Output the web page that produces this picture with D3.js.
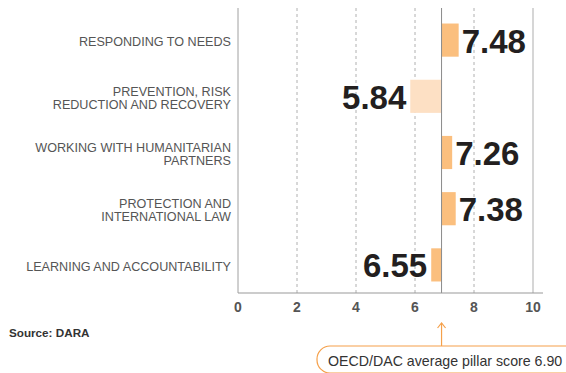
<!DOCTYPE html>
<html><head><meta charset="utf-8">
<script src="https://cdn.jsdelivr.net/npm/d3@7"></script>
<style>
html,body{margin:0;padding:0;background:#fff;}
svg{display:block;}
</style></head>
<body>
<svg id="chart" width="566" height="373"></svg>
<script>
const categories = [
  ["RESPONDING TO NEEDS"],
  ["PREVENTION, RISK", "REDUCTION AND RECOVERY"],
  ["WORKING WITH HUMANITARIAN", "PARTNERS"],
  ["PROTECTION AND", "INTERNATIONAL LAW"],
  ["LEARNING AND ACCOUNTABILITY"]
];
const values = [7.48, 5.84, 7.26, 7.38, 6.55];
const baseline = 6.90;
const tickValues = [0, 2, 4, 6, 8, 10];
const annotationText = "OECD/DAC average pillar score 6.90";
const sourceText = "Source: DARA";

(function() {
const svg = d3.select("#chart");
const x = d3.scaleLinear().domain([0, 10]).range([238, 533]);
const y = d3.scaleBand().domain(d3.range(categories.length)).range([12, 293])
  .paddingInner(0.41).paddingOuter(0.205);
const yTop = 8, yBottom = 293;
const minVal = d3.min(values);

// gridlines
svg.append("g").selectAll("line").data(tickValues).join("line")
  .attr("x1", d => x(d)).attr("x2", d => x(d))
  .attr("y1", yTop).attr("y2", yBottom)
  .attr("stroke", d => d === 0 ? "#a0a0a0" : (d === 10 ? "#c8c8c8" : "#b0b0b0"))
  .attr("stroke-width", d => d === 10 ? 1.5 : 1)
  .attr("stroke-dasharray", d => (d === 0 || d === 10) ? null : "3,3");

// bars
svg.append("g").selectAll("rect").data(values).join("rect")
  .attr("x", d => x(Math.min(d, baseline)))
  .attr("width", d => Math.abs(x(d) - x(baseline)))
  .attr("y", (d, i) => y(i))
  .attr("height", y.bandwidth())
  .attr("fill", d => d === minVal ? "#fde0c4" : "#fbbf7e");

// baseline line
svg.append("line")
  .attr("x1", x(baseline)).attr("x2", x(baseline))
  .attr("y1", yTop).attr("y2", yBottom)
  .attr("stroke", "#8a8a8a").attr("stroke-width", 1);

// x axis line
svg.append("line")
  .attr("x1", x(0)).attr("x2", x(10) + 10)
  .attr("y1", yBottom).attr("y2", yBottom)
  .attr("stroke", "#999").attr("stroke-width", 1);

// tick labels
svg.append("g").selectAll("text").data(tickValues).join("text")
  .attr("x", d => x(d)).attr("y", 312)
  .attr("text-anchor", "middle")
  .attr("font-family", "Liberation Sans, Arial, sans-serif")
  .attr("font-weight", "bold").attr("font-size", 14)
  .attr("fill", "#555")
  .text(d => d);

// value labels
svg.append("g").selectAll("text").data(values).join("text")
  .attr("x", d => d >= baseline ? x(d) + 3 : x(d) - 4)
  .attr("y", (d, i) => y(i) + y.bandwidth() / 2 + 12.5)
  .attr("text-anchor", d => d >= baseline ? "start" : "end")
  .attr("font-family", "Liberation Sans, Arial, sans-serif")
  .attr("font-weight", "bold").attr("font-size", 33)
  .attr("fill", "#231f20")
  .text(d => d.toFixed(2));

// category labels
const cat = svg.append("g").selectAll("text").data(categories).join("text")
  .attr("text-anchor", "end")
  .attr("font-family", "Liberation Sans, Arial, sans-serif")
  .attr("font-size", 12.6)
  .attr("fill", "#555")
  .attr("y", (d, i) => y(i) + y.bandwidth() / 2 + 6 - (d.length - 1) * 6.5);
cat.each(function(d) {
  d3.select(this).selectAll("tspan").data(d).join("tspan")
    .attr("x", 231)
    .attr("dy", (t, j) => j === 0 ? 0 : 13)
    .text(t => t);
});

// source
svg.append("text")
  .attr("x", 9).attr("y", 337)
  .attr("font-family", "Liberation Sans, Arial, sans-serif")
  .attr("font-weight", "bold").attr("font-size", 11.7)
  .attr("fill", "#333")
  .text(sourceText);

// annotation arrow
const ax = x(baseline);
svg.append("line")
  .attr("x1", ax).attr("x2", ax).attr("y1", 323).attr("y2", 346)
  .attr("stroke", "#f5a04a").attr("stroke-width", 1.2);
svg.append("path")
  .attr("d", `M${ax - 4},${328} L${ax},${323} L${ax + 4},${328}`)
  .attr("fill", "none").attr("stroke", "#f5a04a").attr("stroke-width", 1.2);
svg.append("rect")
  .attr("x", 317).attr("y", 346).attr("width", 262).attr("height", 27)
  .attr("rx", 13).attr("ry", 13)
  .attr("fill", "#fff").attr("stroke", "#f5a04a").attr("stroke-width", 1.2);
svg.append("text")
  .attr("x", 328).attr("y", 366)
  .attr("font-family", "Liberation Sans, Arial, sans-serif")
  .attr("font-size", 14.2).attr("fill", "#333")
  .text(annotationText);
})();
</script>
</body></html>
